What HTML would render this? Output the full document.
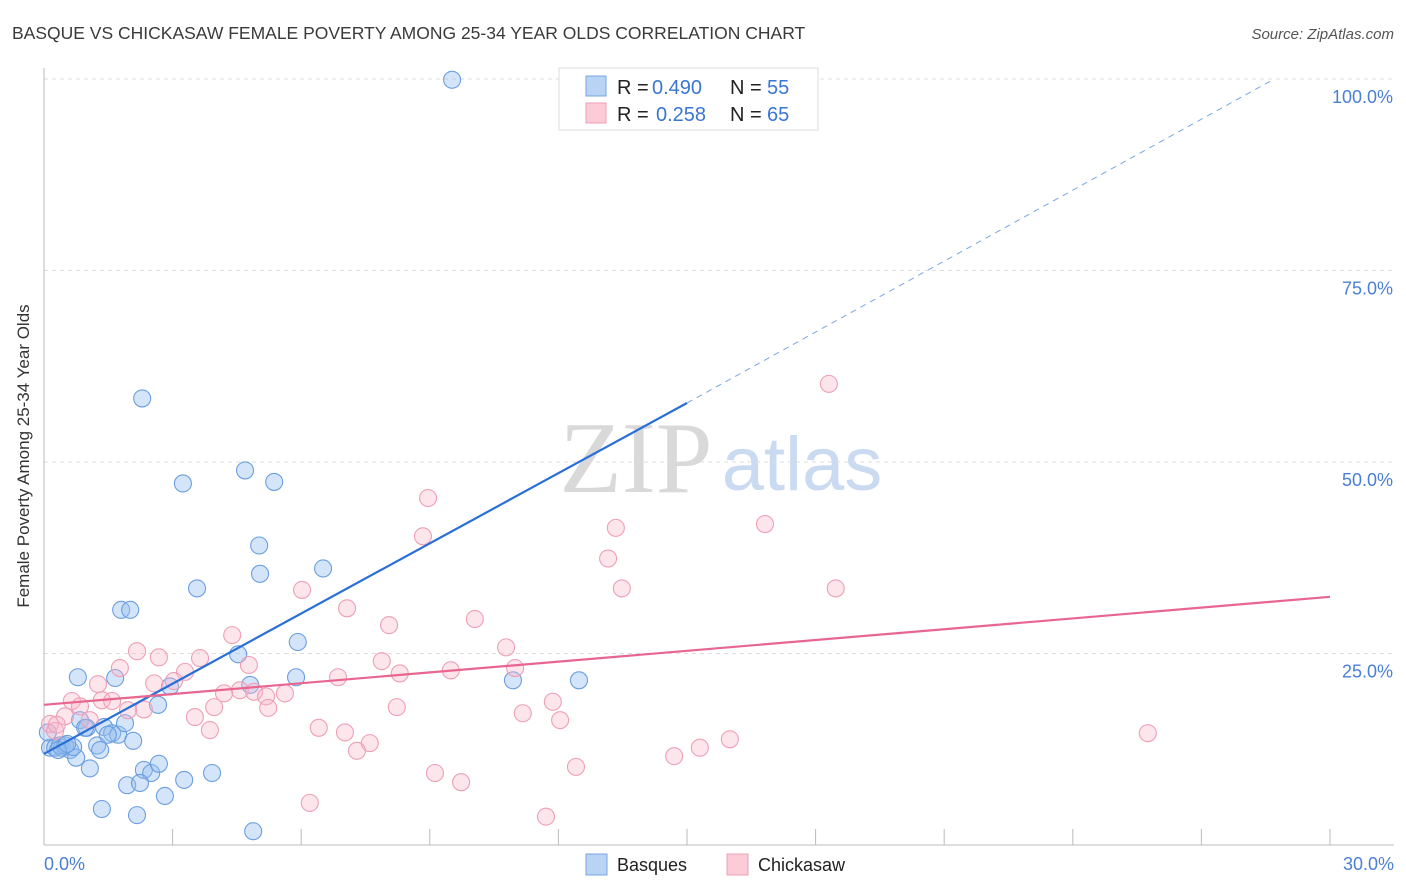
<!DOCTYPE html>
<html><head><meta charset="utf-8"><style>
body{margin:0;background:#fff;font-family:"Liberation Sans",sans-serif;}
</style></head><body>
<svg id="c" width="1406" height="892" xmlns="http://www.w3.org/2000/svg" style="display:block">
<text x="12" y="39" font-size="17.5" fill="#3a3a3a">BASQUE VS CHICKASAW FEMALE POVERTY AMONG 25-34 YEAR OLDS CORRELATION CHART</text>
<text x="1394" y="39" font-size="15" fill="#555" font-style="italic" text-anchor="end">Source: ZipAtlas.com</text>
<g>
<text x="636" y="492" font-size="102" fill="#d9d9d9" font-family="Liberation Serif,serif" text-anchor="middle">ZIP</text>
<text x="802" y="490" font-size="76" fill="#c9daf1" text-anchor="middle">atlas</text>
</g>
<g id="grid"></g>
<g id="axes"></g>
<g id="pts"></g>
<g id="lines"></g>
<text x="29" y="456" font-size="17" fill="#333" text-anchor="middle" transform="rotate(-90 29 456)">Female Poverty Among 25-34 Year Olds</text>
<text x="44" y="870" font-size="18" fill="#4a7fd6">0.0%</text>
<text x="1394" y="870" font-size="18" fill="#4a7fd6" text-anchor="end">30.0%</text>
<g>
<rect x="559" y="68" width="259" height="62" fill="#fff" stroke="#ddd"/>
<rect x="586" y="76" width="20" height="20" fill="#b9d3f5" stroke="#7aa6e3"/>
<rect x="586" y="103" width="20" height="20" fill="#fbcbd8" stroke="#eea0b6"/>
<text x="617" y="94" font-size="20" fill="#222">R =</text>
<text x="652" y="94" font-size="20" fill="#3a76d3">0.490</text>
<text x="730" y="94" font-size="20" fill="#222">N =</text>
<text x="767" y="94" font-size="20" fill="#3a76d3">55</text>
<text x="617" y="121" font-size="20" fill="#222">R =</text>
<text x="656" y="121" font-size="20" fill="#3a76d3">0.258</text>
<text x="730" y="121" font-size="20" fill="#222">N =</text>
<text x="767" y="121" font-size="20" fill="#3a76d3">65</text>
</g>
<g>
<rect x="586" y="854" width="21" height="21" fill="#b9d3f5" stroke="#7aa6e3"/>
<text x="617" y="871" font-size="18" fill="#222">Basques</text>
<rect x="727" y="854" width="21" height="21" fill="#fbcbd8" stroke="#eea0b6"/>
<text x="758" y="871" font-size="18" fill="#222">Chickasaw</text>
</g>
</svg>
<script>
const yTicks=[25,50,75,100];
const xTicks=[0,3,6,9,12,15,18,21,24,27,30];
const basqueX=[9.52,2.29,3.24,4.69,5.37,5.02,5.04,3.57,6.51,1.80,2.01,5.92,4.53,0.79,1.66,5.88,12.48,10.94,4.81,2.66,2.94,0.84,1.00,1.40,1.59,1.73,1.89,1.24,1.31,2.08,0.14,0.26,0.42,0.61,0.75,1.07,2.33,2.50,2.68,3.27,3.92,1.94,2.24,2.82,1.35,2.17,4.88,0.37,0.09,0.49,0.96,1.49,0.68,0.33,0.54];
const basqueY=[99.9,58.3,47.2,48.9,47.4,39.1,35.4,33.5,36.1,30.7,30.7,26.5,24.9,21.9,21.8,21.9,21.5,21.5,20.9,18.3,20.7,16.3,15.3,15.4,14.6,14.4,15.9,13.0,12.4,13.6,12.7,12.7,12.7,12.4,11.4,10.0,9.8,9.4,10.6,8.5,9.4,7.8,8.1,6.4,4.7,3.9,1.8,13.0,14.7,13.0,15.3,14.4,12.8,12.4,13.2];
const chickX=[18.31,8.96,13.34,16.82,8.84,13.16,13.48,18.47,6.02,7.07,10.05,8.05,10.78,4.39,2.17,2.68,4.78,7.88,10.99,1.77,3.29,3.03,3.64,9.49,8.30,6.86,1.26,2.57,4.57,4.90,5.62,4.20,5.18,0.65,1.35,1.59,0.84,2.33,3.97,8.23,5.23,1.96,0.49,1.07,3.52,11.87,11.17,12.04,0.14,0.26,3.87,6.41,7.02,7.60,7.30,16.00,15.30,14.70,12.41,9.12,9.73,6.20,11.71,25.75,0.30];
const chickY=[60.2,45.3,41.4,41.9,40.3,37.4,33.5,33.5,33.3,30.9,29.5,28.7,25.8,27.4,25.3,24.5,23.5,24.0,23.1,23.1,22.6,21.4,24.4,22.8,22.4,21.9,21.0,21.1,20.2,20.0,19.8,19.8,19.4,18.8,18.9,18.8,18.1,17.7,18.0,18.0,17.9,17.6,16.8,16.3,16.7,18.7,17.2,16.3,15.8,14.9,15.0,15.3,14.7,13.3,12.3,13.8,12.7,11.6,10.2,9.4,8.2,5.5,3.7,14.6,15.7];
const basqueTrend=[11.9,57.7];
const basqueDashEnd=28.7;
const chickTrend=[18.3,32.4];
const NS="http://www.w3.org/2000/svg";
const X=v=>44+v*(1330-44)/30, Y=v=>845-v*(845-79)/100;
function mk(tag,attrs,parent){const e=document.createElementNS(NS,tag);for(const k in attrs)e.setAttribute(k,attrs[k]);document.getElementById(parent).appendChild(e);return e;}
yTicks.forEach(t=>{
 const l=mk('line',{x1:44,x2:1394,y1:Y(t),y2:Y(t),stroke:'#ddd','stroke-dasharray':'4,4'},'grid');
 
 
 const tx=mk('text',{x:1393,y:Y(t)+24,'font-size':18,fill:'#4a7fd6','text-anchor':'end'},'grid');
 tx.textContent=t.toFixed(1)+'%';
 
 
});
const ya=mk('line',{x1:44,x2:44,y1:68,y2:845,stroke:'#bbb'},'axes');


const xa=mk('line',{x1:44,x2:1394,y1:845,y2:845,stroke:'#bbb'},'axes');


xTicks.forEach(t=>{
 const l=mk('line',{x1:X(t),x2:X(t),y1:829,y2:845,stroke:'#bbb'},'axes');
 
 
});
basqueX.forEach((v,i)=>{
 const c=mk('circle',{cx:X(v),cy:Y(basqueY[i]),r:8.5,fill:'rgba(150,190,240,0.4)',stroke:'#6a9ee0','stroke-width':1.1},'pts');
 
 
});
chickX.forEach((v,i)=>{
 const c=mk('circle',{cx:X(v),cy:Y(chickY[i]),r:8.5,fill:'rgba(248,180,200,0.35)',stroke:'#ee9fb6','stroke-width':1.1},'pts');
 
 
});
const bl=mk('line',{x1:X(0),y1:Y(basqueTrend[0]),x2:X(15),y2:Y(basqueTrend[1]),stroke:'#2a6fd6','stroke-width':2.2},'lines');


const bd=mk('line',{x1:X(15),y1:Y(basqueTrend[1]),x2:X(basqueDashEnd),y2:Y(100),stroke:'#7aa6e3','stroke-width':1,'stroke-dasharray':'6,5'},'lines');


const cl=mk('line',{x1:X(0),y1:Y(chickTrend[0]),x2:X(30),y2:Y(chickTrend[1]),stroke:'#e8658f','stroke-width':2.2},'lines');


</script>
</body></html>
